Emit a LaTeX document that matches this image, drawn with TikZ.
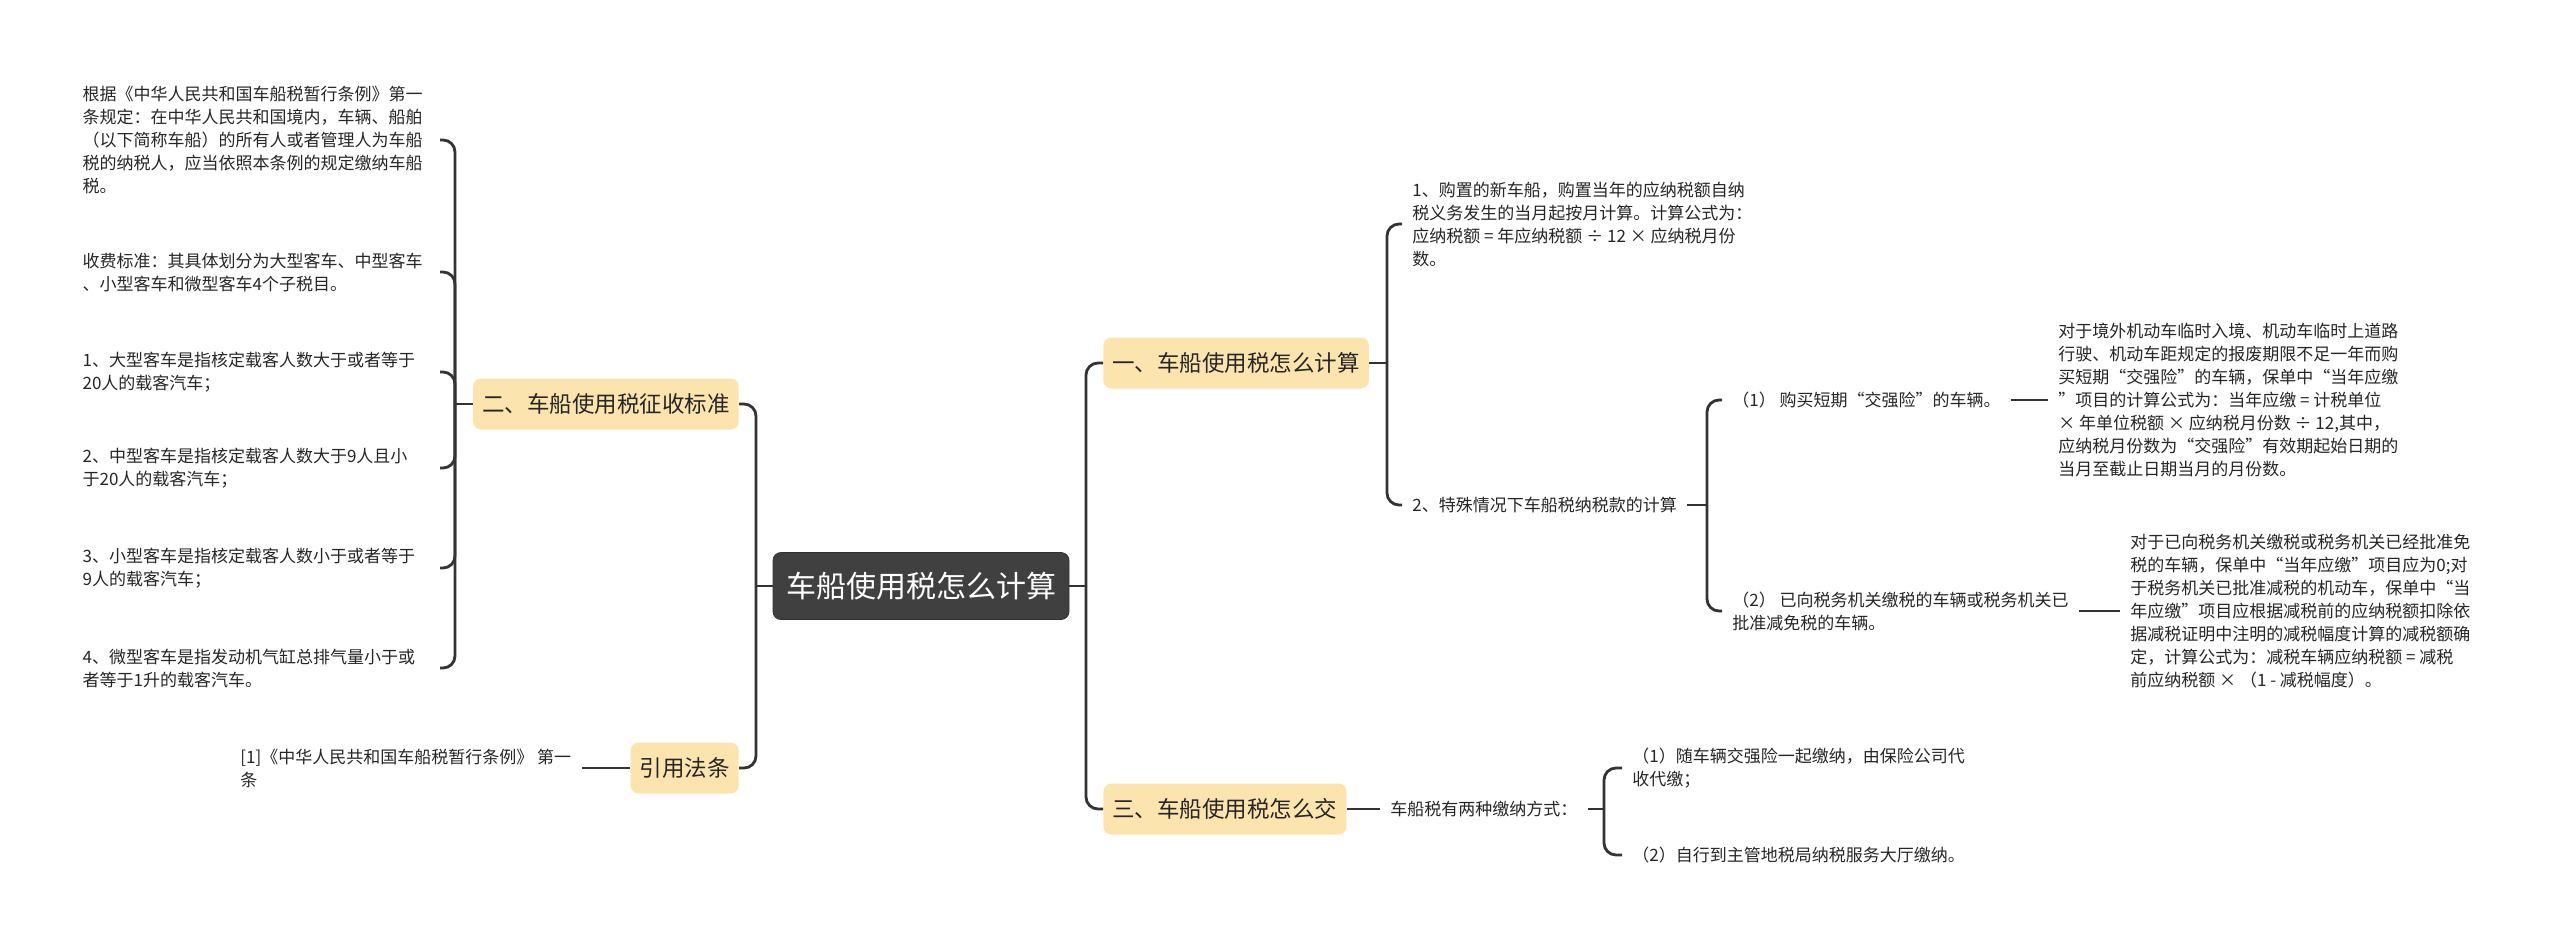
\documentclass[tikz,border=0pt]{standalone}
\usepackage{fontspec}
\setmainfont{Noto Sans CJK SC}
\usepackage{tikz}
\usetikzlibrary{positioning}
\definecolor{ct-text}{HTML}{262626}
\definecolor{ct-root}{HTML}{404040}
\definecolor{ct-box}{HTML}{FCE4AF}
\definecolor{ct-line}{HTML}{333333}

\begin{document}
\begin{tikzpicture}[
    x=0.5pt, y=-0.5pt, % one unit = one pixel of the mind map
    font=\fontsize{8.5}{11.5}\selectfont,
    >=latex
  ]

  % Styles for the map levels
  \tikzset{
    central/.style={draw=ct-line, fill=ct-root, rounded corners=4pt, text=white, font=\fontsize{15}{18}\selectfont, inner xsep=6.5pt, minimum height=33.5pt},
    topic/.style={fill=ct-box, rounded corners=4pt, text=ct-text, font=\fontsize{11.25}{14}\selectfont, inner xsep=4.5pt, minimum height=25.5pt},
    leafnote/.style={text=ct-text, align=left, inner xsep=5pt, inner ysep=2pt},
    leftnote/.style={leafnote, text width=173.5pt},
    link/.style={ct-line, line width=1.4pt, rounded corners=6pt}
  }

  \fill[white] (0,0) rectangle (2560,948);
  \useasboundingbox (0,0) rectangle (2560,948);

  % Centre and main topics
  \node (root)  [central] at (921,586) {车船使用税怎么计算};
  \node (calc)  [topic, anchor=west] at (1103,363) {一、车船使用税怎么计算};
  \node (pay)   [topic, anchor=west] at (1103,809) {三、车船使用税怎么交};
  \node (rules) [topic, anchor=east] at (739,404) {二、车船使用税征收标准};
  \node (law)   [topic, anchor=east] at (739,768) {引用法条};

  % Left side notes
  \node (rules-basis)  [leftnote, anchor=east] at (440,140) {根据《中华人民共和国车船税暂行条例》第一\\
条规定：在中华人民共和国境内，车辆、船舶\\
（以下简称车船）的所有人或者管理人为车船\\
税的纳税人，应当依照本条例的规定缴纳车船\\
税。};
  \node (rules-fee)    [leftnote, anchor=east] at (440,272) {收费标准：其具体划分为大型客车、中型客车\\
、小型客车和微型客车4个子税目。};
  \node (rules-large)  [leftnote, anchor=east] at (440,372) {1、大型客车是指核定载客人数大于或者等于\\
20人的载客汽车；};
  \node (rules-medium) [leftnote, anchor=east] at (440,468) {2、中型客车是指核定载客人数大于9人且小\\
于20人的载客汽车；};
  \node (rules-small)  [leftnote, anchor=east] at (440,568) {3、小型客车是指核定载客人数小于或者等于\\
9人的载客汽车；};
  \node (rules-mini)   [leftnote, anchor=east] at (440,668) {4、微型客车是指发动机气缸总排气量小于或\\
者等于1升的载客汽车。};
  \node (law-ref) [leafnote, anchor=west] at (230,768) {[1]《中华人民共和国车船税暂行条例》 第一\\
条};

  % Right side notes
  \node (calc-new) [leafnote, anchor=west] at (1402,224) {1、购置的新车船，购置当年的应纳税额自纳\\
税义务发生的当月起按月计算。计算公式为：\\
应纳税额 = 年应纳税额 ÷ 12 × 应纳税月份\\
数。};
  \node (calc-special)   [leafnote, anchor=west] at (1402,505) {2、特殊情况下车船税纳税款的计算};
  \node (special-short)  [leafnote, anchor=west] at (1722,400) {（1） 购买短期“交强险”的车辆。};
  \node (special-exempt) [leafnote, anchor=west] at (1722,611) {（2） 已向税务机关缴税的车辆或税务机关已\\
批准减免税的车辆。};
  \node (short-note) [leafnote, anchor=west] at (2048,400) {对于境外机动车临时入境、机动车临时上道路\\
行驶、机动车距规定的报废期限不足一年而购\\
买短期“交强险”的车辆，保单中“当年应缴\\
”项目的计算公式为：当年应缴 = 计税单位\\
× 年单位税额 × 应纳税月份数 ÷ 12,其中，\\
应纳税月份数为“交强险”有效期起始日期的\\
当月至截止日期当月的月份数。};
  \node (exempt-note) [leafnote, anchor=west] at (2120,611) {对于已向税务机关缴税或税务机关已经批准免\\
税的车辆，保单中“当年应缴”项目应为0;对\\
于税务机关已批准减税的机动车，保单中“当\\
年应缴”项目应根据减税前的应纳税额扣除依\\
据减税证明中注明的减税幅度计算的减税额确\\
定，计算公式为：减税车辆应纳税额 = 减税\\
前应纳税额 × （1 - 减税幅度）。};
  \node (pay-ways)   [leafnote, anchor=west] at (1380,809) {车船税有两种缴纳方式：};
  \node (pay-insure) [leafnote, anchor=west] at (1622,768) {（1）随车辆交强险一起缴纳，由保险公司代\\
收代缴；};
  \node (pay-hall)   [leafnote, anchor=west] at (1622,855) {（2）自行到主管地税局纳税服务大厅缴纳。};

  % Branch points
  \coordinate (rj) at (1086,586);
  \coordinate (lj) at (756,586);
  \coordinate (rulesj) at (455,404);
  \coordinate (calcj) at (1387,363);
  \coordinate (specialj) at (1707,505);
  \coordinate (payj) at (1604,809);

  % Connectors
  \draw[link] (root.east) -- (rj);
  \draw[link] (rj) |- (calc.west);
  \draw[link] (rj) |- (pay.west);
  \draw[link] (root.west) -- (lj);
  \draw[link] (lj) |- (rules.east);
  \draw[link] (lj) |- (law.east);

  \draw[link] (rules.west) -- (rulesj);
  \foreach \n in {basis, fee, large, medium, small, mini}
    \draw[link] (rulesj) |- (rules-\n.east);
  \draw[link] (law.west) -- (law-ref.east);

  \draw[link] (calc.east) -- (calcj);
  \draw[link] (calcj) |- (calc-new.west);
  \draw[link] (calcj) |- (calc-special.west);
  \draw[link] (calc-special.east) -- (specialj);
  \draw[link] (specialj) |- (special-short.west);
  \draw[link] (specialj) |- (special-exempt.west);
  \draw[link] (special-short.east) -- (short-note.west);
  \draw[link] (special-exempt.east) -- (exempt-note.west);

  \draw[link] (pay.east) -- (pay-ways.west);
  \draw[link] (pay-ways.east) -- (payj);
  \draw[link] (payj) |- (pay-insure.west);
  \draw[link] (payj) |- (pay-hall.west);

\end{tikzpicture}
\end{document}
